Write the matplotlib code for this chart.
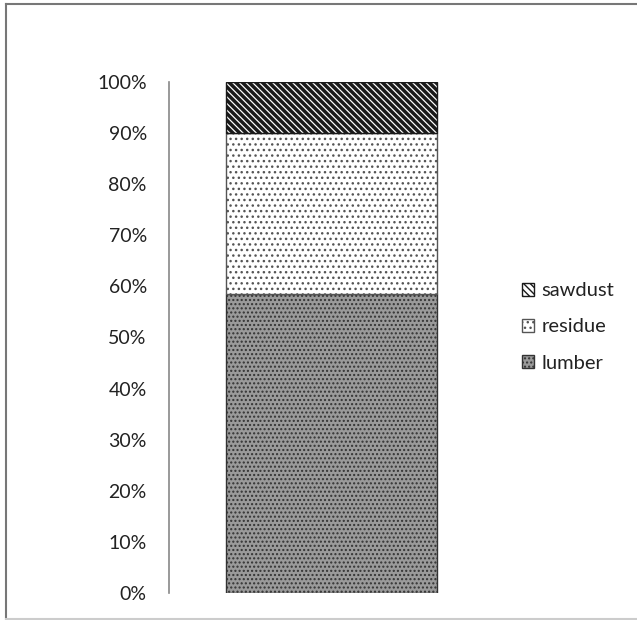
import matplotlib.pyplot as plt
from matplotlib.lines import Line2D
from matplotlib.ticker import PercentFormatter

plt.rcParams["font.family"] = ["Lato", "DejaVu Sans"]
plt.rcParams["hatch.linewidth"] = 1.0

# 数据
categories = [""]
lumber = [0.585]
residue = [0.315]
sawdust = [0.10]
series_names = ["lumber", "residue", "sawdust"]

W, H = 637, 620
fig = plt.figure(figsize=(W / 100, H / 100), dpi=100)
ax = fig.add_axes([169 / W, 1 - 593 / H, (494 - 169) / W, (593 - 82) / H])

b1 = ax.bar(categories, lumber, width=0.65, color="#9a9a9a", edgecolor="#333333",
            hatch="....", linewidth=1.0, label=series_names[0])
b2 = ax.bar(categories, residue, bottom=lumber, width=0.65, color="white",
            edgecolor="#555555", hatch="...", linewidth=1.0, label=series_names[1])
bottom2 = [a + b for a, b in zip(lumber, residue)]
b3 = ax.bar(categories, sawdust, bottom=bottom2, width=0.65, color="white",
            edgecolor="#1a1a1a", hatch="\\\\\\\\\\", linewidth=1.0, label=series_names[2])
for p in b3:
    try:
        p.set_hatch_linewidth(2.5)
    except AttributeError:
        pass

ax.set_xlim(-0.5, 0.5)
ax.set_ylim(0, 1)
ax.set_yticks([i / 10 for i in range(11)])
ax.yaxis.set_major_formatter(PercentFormatter(1.0, decimals=0))
ax.tick_params(axis="y", length=0, pad=16, labelsize=14, labelcolor="#222222")
ax.tick_params(axis="x", length=0, labelbottom=False)
for s in ["top", "right", "bottom"]:
    ax.spines[s].set_visible(False)
ax.spines["left"].set_color("#888888")
ax.spines["left"].set_linewidth(1.2)

handles, labels = ax.get_legend_handles_labels()
leg = fig.legend(handles[::-1], labels[::-1], loc="center left",
                 bbox_to_anchor=(504 / W, 1 - 327 / H), frameon=False,
                 fontsize=14.5, handlelength=0.6, handleheight=0.6,
                 handletextpad=0.35, labelspacing=0.95, labelcolor="#222222")

# 外框
fig.add_artist(Line2D([6 / W, 6 / W], [0, 1 - 4 / H], transform=fig.transFigure, color="#777777", lw=1.5))
fig.add_artist(Line2D([6 / W, 1], [1 - 4 / H, 1 - 4 / H], transform=fig.transFigure, color="#777777", lw=1.5))
fig.add_artist(Line2D([6 / W, 1], [1 / H, 1 / H], transform=fig.transFigure, color="#cccccc", lw=1.5))

fig.savefig("out.png", dpi=100)
